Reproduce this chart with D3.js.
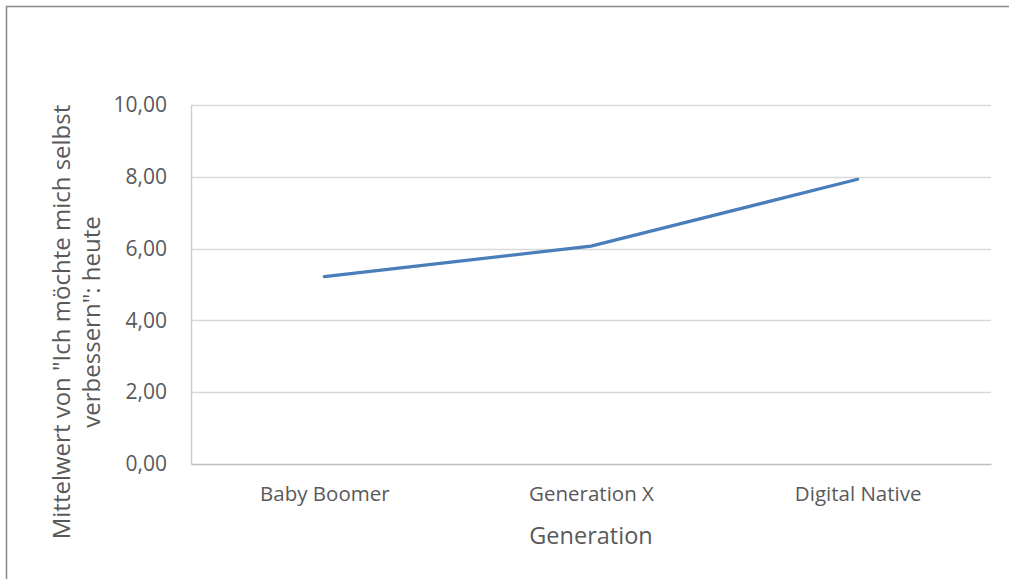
<!DOCTYPE html>
<html><head><meta charset="utf-8">
<script src="https://cdn.jsdelivr.net/npm/d3@7"></script>
<style>
html,body{margin:0;padding:0;background:#fff;}
svg{display:block;}
text{font-family:"Open Sans",sans-serif;fill:#595959;}
</style></head>
<body>
<svg id="chart" width="1009" height="579"></svg>
<script>
const categories = ["Baby Boomer", "Generation X", "Digital Native"];
const values = [5.22, 6.07, 7.93];
const yTicks = [0, 2, 4, 6, 8, 10];
const xTitle = "Generation";
const yTitleLines = ["Mittelwert von \"Ich möchte mich selbst", "verbessern\": heute"];

const svg = d3.select("#chart");
const W = 1009, H = 579;
const m = {left:191, right:18, top:105, bottom:115};
const iw = W - m.left - m.right, ih = H - m.top - m.bottom;

svg.append("rect").attr("x",6.5).attr("y",6.5).attr("width",W).attr("height",H)
  .attr("fill","#fff").attr("stroke","#888").attr("stroke-width",1.5);

const x = d3.scalePoint().domain(categories).range([0, iw]).padding(0.5);
const y = d3.scaleLinear().domain([0,10]).range([ih,0]);
const fmt = d => d.toFixed(2).replace(".", ",");

const g = svg.append("g").attr("transform",`translate(${m.left},${m.top})`);

// gridlines
g.append("g").selectAll("line").data(yTicks.filter(d=>d>0)).join("line")
  .attr("x1",0).attr("x2",iw).attr("y1",d=>Math.round(y(d))+0.5).attr("y2",d=>Math.round(y(d))+0.5)
  .attr("stroke","#d9d9d9").attr("stroke-width",1.3);

// y axis
const ya = g.append("g").call(d3.axisLeft(y).tickValues(yTicks).tickFormat(fmt).tickSize(0).tickPadding(24));
ya.select(".domain").attr("stroke","#d0d0d0").attr("stroke-width",1.5);
ya.selectAll("text").style("font-size","21px").style("font-family","'Open Sans',sans-serif").attr("fill","#595959");

// x axis
const xa = g.append("g").attr("transform",`translate(0,${ih})`)
  .call(d3.axisBottom(x).tickSize(0).tickPadding(22));
xa.select(".domain").attr("stroke","#bfbfbf").attr("stroke-width",1.5);
xa.selectAll("text").style("font-size","20.5px").style("font-family","'Open Sans',sans-serif").attr("fill","#595959");

// line
const line = d3.line().x((d,i)=>x(categories[i])).y(d=>y(d));
g.append("path").datum(values).attr("d",line).attr("fill","none")
  .attr("stroke","#4a7ebb").attr("stroke-width",3.2).attr("stroke-linecap","round");

// x title
svg.append("text").attr("x", m.left + iw/2).attr("y", 544).attr("text-anchor","middle")
  .style("font-size","23.5px").text(xTitle);

// y title
const yt = svg.append("text").attr("transform",`translate(0,322) rotate(-90)`)
  .attr("text-anchor","middle").style("font-size","24px");
yTitleLines.forEach((t,i)=> yt.append("tspan").attr("x",0).attr("y", 70 + i*30).text(t));
</script>
</body></html>
